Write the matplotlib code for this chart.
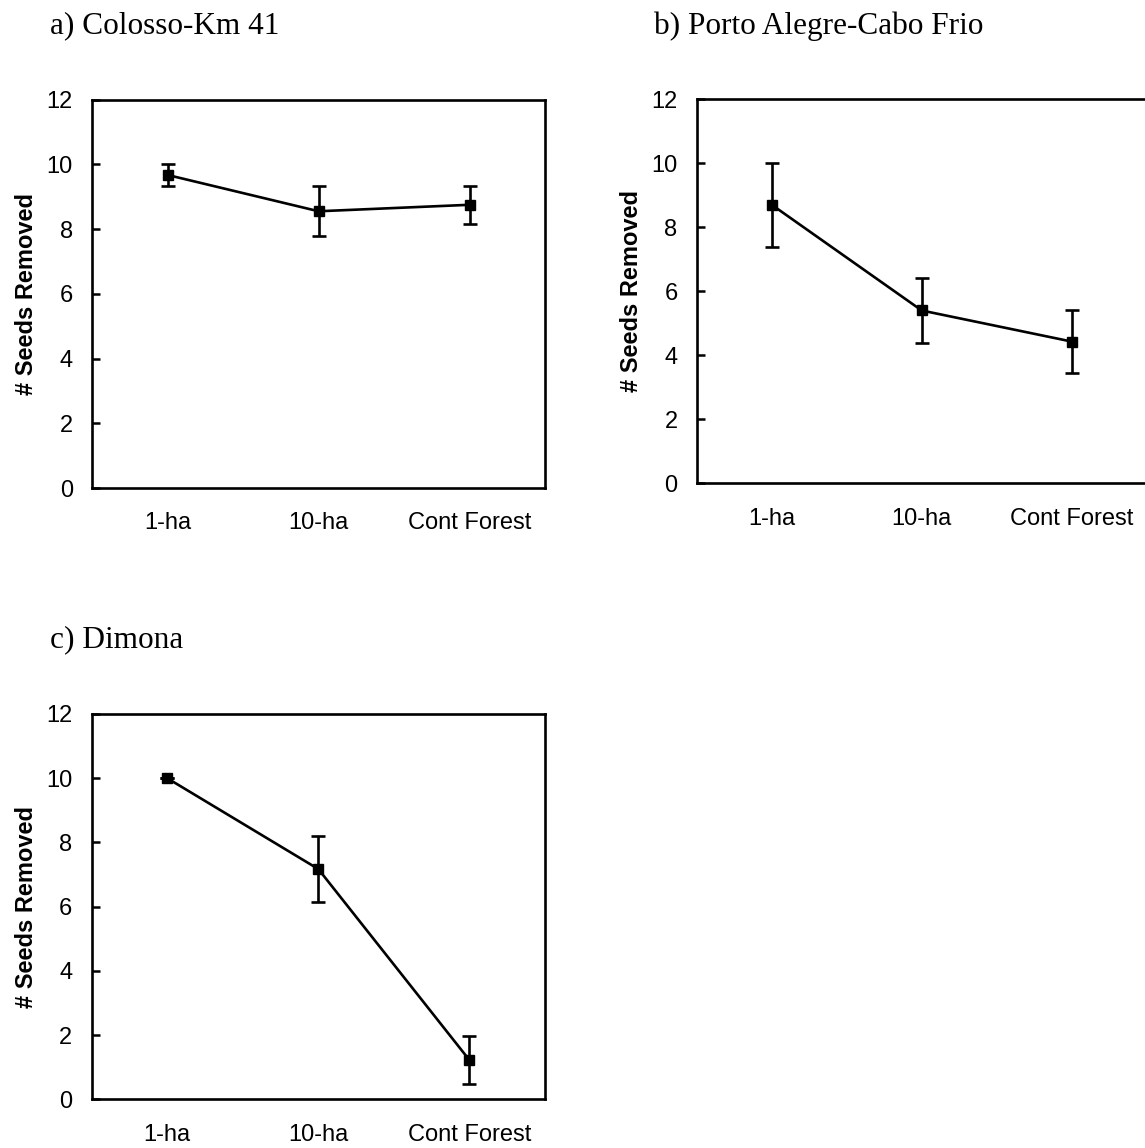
import matplotlib
matplotlib.use("Agg")
import matplotlib.pyplot as plt

sites = ["1-ha", "10-ha", "Cont Forest"]

# mean seeds removed and error per site
colosso_mean = [9.67, 8.55, 8.75]
colosso_err = [0.33, 0.77, 0.58]

porto_mean = [8.70, 5.40, 4.43]
porto_err = [1.32, 1.02, 0.99]

dimona_mean = [10.0, 7.17, 1.22]
dimona_err = [0.0, 1.02, 0.75]

titles = ["a) Colosso-Km 41", "b) Porto Alegre-Cabo Frio", "c) Dimona"]
yticks = [0, 2, 4, 6, 8, 10, 12]

W, H = 1145, 1148
fig = plt.figure(figsize=(W / 100, H / 100), dpi=100)


def box(l, t, r, b):
    return [l / W, 1 - b / H, (r - l) / W, (b - t) / H]


def panel(rect, means, errs):
    ax = fig.add_axes(rect)
    x = [1, 2, 3]
    ax.errorbar(x, means, yerr=errs, color="black", lw=1.9, marker="s",
                ms=7, capsize=5, capthick=1.9, elinewidth=1.9)
    ax.set_xlim(0.5, 3.5)
    ax.set_ylim(0, 12)
    ax.set_yticks(yticks)
    ax.set_xticks(x)
    ax.set_xticklabels(sites, fontfamily="Liberation Sans", fontsize=17)
    ax.set_yticklabels([str(v) for v in yticks], fontfamily="Liberation Sans", fontsize=17)
    ax.tick_params(axis="y", direction="in", length=6, width=1.8, pad=14)
    ax.tick_params(axis="x", length=0, pad=17.5)
    for s in ax.spines.values():
        s.set_linewidth(1.9)
    ax.set_ylabel("# Seeds Removed", fontfamily="Liberation Sans", fontweight="bold",
                  fontsize=17, labelpad=6)
    return ax


panel(box(92.3, 99.6, 545, 488), colosso_mean, colosso_err)
panel(box(697, 99.3, 1146.5, 483.3), porto_mean, porto_err)
panel(box(91.7, 714, 545, 1099.3), dimona_mean, dimona_err)

tfont = dict(fontfamily="Liberation Serif", fontsize=22.5, va="baseline", ha="left")
fig.text(50 / W, 1 - 33.5 / H, titles[0], **tfont)
fig.text(653.6 / W, 1 - 34 / H, titles[1], **tfont)
fig.text(50 / W, 1 - 647 / H, titles[2], **tfont)

fig.savefig("out.png", dpi=100)
